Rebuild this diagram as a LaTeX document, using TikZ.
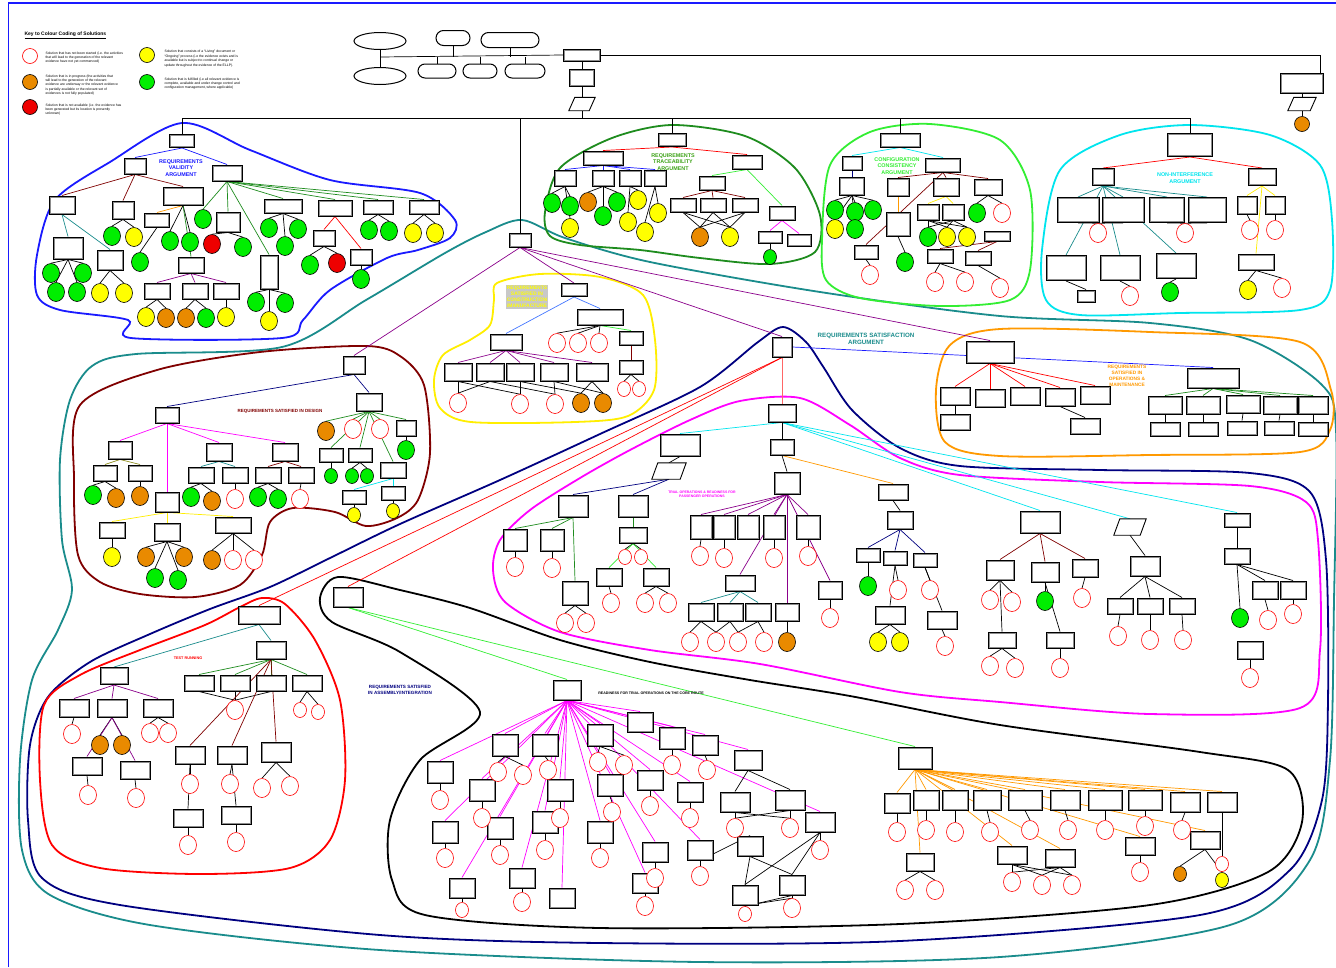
\documentclass[tikz,border=0pt]{standalone}
\usepackage{fontspec}
\setmainfont{Liberation Sans}
\usetikzlibrary{shapes.geometric,shapes.misc}
\pgfdeclarelayer{paper}
\pgfdeclarelayer{outl}
\pgfdeclarelayer{links}
\pgfsetlayers{paper,outl,links,main}

\definecolor{cBlue}{HTML}{1A1AFF}
\definecolor{cGreen}{HTML}{1E8C1E}
\definecolor{cLime}{HTML}{33EE33}
\definecolor{cCyan}{HTML}{00E5EE}
\definecolor{cTeal}{HTML}{1A8C8C}
\definecolor{cYell}{HTML}{FFEE00}
\definecolor{cOrng}{HTML}{FF9900}
\definecolor{cDRed}{HTML}{800000}
\definecolor{cMag}{HTML}{FF00FF}
\definecolor{cPurp}{HTML}{8B008B}
\definecolor{cNavy}{HTML}{000080}
\definecolor{cRed}{HTML}{FF0000}
\definecolor{cSalm}{HTML}{FF6666}
\definecolor{cLBlue}{HTML}{4477FF}
\definecolor{cOlive}{HTML}{8C8C1A}
\definecolor{fOrng}{HTML}{E98A00}
\definecolor{fGrn}{HTML}{00EE00}
\definecolor{fYel}{HTML}{FFFF00}
\definecolor{fRed}{HTML}{EE0000}
\definecolor{tGrey}{HTML}{C8C8C8}

\tikzset{
  gbox/.style={draw=black,line width=1pt,fill=white,inner sep=0pt,
    path picture={\draw[black!45,line width=0.6pt]
      ([shift={(1.1pt,-1.1pt)}]path picture bounding box.north west) rectangle
      ([shift={(-1.1pt,1.1pt)}]path picture bounding box.south east);}},
  solb/.style={ellipse,inner sep=0pt,minimum width=17pt,minimum height=19pt,line width=0.6pt,draw=black},
  sr/.style={solb,draw=cRed,fill=white},
  so/.style={solb,fill=fOrng},
  sf/.style={solb,fill=fRed},
  sy/.style={solb,fill=fYel},
  sg/.style={solb,fill=fGrn},
  sm/.style={minimum width=13pt,minimum height=15pt},
  oval/.style={ellipse,draw=black,line width=1pt,fill=white,inner sep=0pt},
  pill/.style={rounded rectangle,draw=black,line width=1pt,fill=white,inner sep=0pt},
  ln/.style={line width=0.7pt},
  outline/.style={line width=1.8pt},
  keytxt/.style={anchor=north west,align=left,font=\fontsize{3.4}{4.4}\selectfont},
  ttl/.style={align=center,font=\bfseries\fontsize{5.4}{6.6}\selectfont},
}

\newcommand\bx[5]{\node[gbox,minimum width=#4pt,minimum height=#5pt] (#1) at (#2,#3) {};}
\newcommand\solu[4]{\node[#4] (#1) at (#2,#3) {};}
\newcommand\pa[5]{\node[inner sep=0pt,minimum width=#4pt,minimum height=#5pt] (#1) at (#2,#3) {};
  \draw[line width=0.9pt,fill=white] ([xshift=3pt]#1.north west) -- ([xshift=3pt]#1.north east)
    -- ([xshift=-3pt]#1.south east) -- ([xshift=-3pt]#1.south west) -- cycle;}
\newcommand\edg[3]{\begin{pgfonlayer}{links}\foreach \kid in {#3}{\draw[ln,#2] (#1.south) -- (\kid.north);}\end{pgfonlayer}}

\begin{document}
\begin{tikzpicture}[x=1pt,y=-1pt]
\useasboundingbox (0,0) rectangle (1336,967);
\begin{pgfonlayer}{paper}
\fill[white] (0,0) rectangle (1336,967);
\end{pgfonlayer}
\draw[cBlue,line width=1.2pt] (8.5,967) -- (8.5,3) -- (1336,3);

% ---------------- key ----------------
\node[anchor=west,font=\bfseries\fontsize{5}{6}\selectfont] (keyt) at (21,35) {\underline{Key to Colour Coding of Solutions}};
\node[sr,minimum width=15pt,minimum height=15pt] (k1) at (30,56) {};
\node[so,minimum width=15pt,minimum height=15pt] (k2) at (30,82) {};
\node[sf,minimum width=15pt,minimum height=15pt] (k3) at (30,107) {};
\node[sy,minimum width=15pt,minimum height=15pt] (k4) at (147,55) {};
\node[sg,minimum width=15pt,minimum height=15pt] (k5) at (147,82) {};
\node[keytxt] (kt1) at (42,48) {Solution that has not been started (i.e. the activities\\that will lead to the generation of the relevant\\evidence have not yet commenced)};
\node[keytxt] (kt2) at (42,71) {Solution that is in progress (the activities that\\will lead to the generation of the relevant\\evidence are underway or the relevant evidence\\is partially available or the relevant set of\\evidences is not fully populated)};
\node[keytxt] (kt3) at (42,100) {Solution that is not available (i.e. the evidence has\\been generated but its location is presently\\unknown)};
\node[keytxt] (kt4) at (161,47) {Solution that consists of a “Living” document or\\“Ongoing” process (i.e the evidence exists and is\\available but is subject to continual change or\\update throughout the evidence of the ELLP).};
\node[keytxt] (kt5) at (161,74) {Solution that is fulfilled (i.e all relevant evidence is\\complete, available and under change control and\\configuration management, where applicable)};

% ---------------- region outlines ----------------
\begin{pgfonlayer}{outl}
% requirements satisfaction (outermost)
\draw[outline,cTeal] plot[smooth cycle] coordinates {(522,220) (486,232) (445,253) (366,300) (282,347) (136,354) (92,366) (70,400) (60,460) (62,540) (72,590) (58,630) (32,680) (20,760) (22,850) (50,895) (150,925) (380,950) (700,962) (1000,957) (1230,925) (1310,860) (1330,760) (1334,600) (1336,430) (1322,385) (1250,340) (1150,323) (1000,316) (820,292) (650,262) (565,238)};
% assembly / integration
\draw[outline,cNavy] plot[smooth cycle] coordinates {(783,327) (806,342) (824,368) (852,410) (900,448) (960,466) (1100,470) (1250,473) (1310,492) (1326,560) (1328,700) (1322,800) (1290,870) (1200,915) (900,941) (600,943) (380,935) (120,905) (42,878) (28,820) (30,745) (48,697) (90,662) (150,634) (210,609) (270,587) (330,558) (400,524) (500,480) (600,434) (700,387) (758,342)};
\draw[outline,cBlue] plot[smooth cycle] coordinates {(37,255) (55,200) (110,162) (182,123) (250,150) (330,180) (420,193) (455,220) (450,238) (418,250) (387,258) (330,290) (303,320) (282,338) (131,338) (128,320) (60,310) (37,295)};
\draw[outline,cGreen] plot[smooth cycle] coordinates {(545,212) (560,168) (612,138) (672,125) (745,136) (795,168) (820,215) (815,252) (770,264) (700,258) (640,250) (580,245) (550,236)};
\draw[outline,cLime] plot[smooth cycle] coordinates {(822,240) (830,165) (870,132) (930,124) (1000,140) (1030,190) (1030,270) (1010,300) (940,306) (860,298) (826,280)};
\draw[outline,cCyan] plot[smooth cycle] coordinates {(1042,250) (1060,170) (1120,135) (1190,125) (1270,135) (1320,165) (1332,220) (1330,290) (1300,310) (1180,313) (1080,315) (1046,300)};
\draw[outline,cYell] plot[smooth cycle] coordinates {(494,300) (497,283) (540,274) (600,277) (643,295) (655,340) (654,390) (628,416) (575,422) (471,422) (440,408) (434,380) (443,355) (470,340) (490,325)};
\draw[outline,cDRed] plot[smooth cycle] coordinates {(80,405) (157,370) (260,352) (366,346) (400,356) (424,385) (430,453) (418,500) (397,518) (366,526) (335,512) (293,508) (270,522) (262,555) (240,585) (195,597) (140,594) (100,582) (78,555) (74,480)};
\draw[outline,cOrng] plot[smooth cycle] coordinates {(936,390) (950,345) (1000,329) (1150,332) (1300,342) (1331,390) (1330,430) (1300,452) (1150,455) (1000,456) (945,442)};
\draw[outline,cMag] plot[smooth cycle] coordinates {(800,398) (850,425) (900,458) (960,475) (1100,482) (1250,486) (1306,502) (1318,540) (1320,650) (1300,708) (1150,714) (1000,702) (900,692) (760,664) (650,650) (560,632) (505,602) (493,570) (500,540) (530,510) (580,478) (630,450) (690,420) (740,401)};
\draw[outline,black] plot[smooth cycle] coordinates {(320,598) (338,577) (400,590) (470,608) (560,640) (650,662) (750,680) (850,696) (1000,725) (1200,752) (1288,770) (1302,822) (1268,872) (1150,905) (900,924) (600,928) (425,915) (392,880) (390,820) (420,760) (480,712) (400,652) (332,622)};
\draw[outline,cRed] plot[smooth cycle] coordinates {(44,705) (80,675) (140,650) (205,625) (240,607) (262,598) (285,604) (315,640) (340,700) (345,780) (330,840) (290,868) (200,874) (100,868) (52,845) (40,780)};
\end{pgfonlayer}

% ---------------- titles ----------------
\node[ttl,text=cBlue] (tRV) at (181,168) {REQUIREMENTS\\VALIDITY\\ARGUMENT};
\node[ttl,text=cGreen!80!lime] (tTR) at (673,162) {REQUIREMENTS\\TRACEABILITY\\ARGUMENT};
\node[ttl,text=cLime] (tCC) at (897,166) {CONFIGURATION\\CONSISTENCY\\ARGUMENT};
\node[ttl,text=cCyan] (tNI) at (1185,178) {NON-INTERFERENCE\\ARGUMENT};
\node[ttl,text=fYel,fill=tGrey,inner sep=1pt,font=\bfseries\fontsize{5}{6}\selectfont] (tCM) at (527,297) {REQUIREMENTS\\SATISFIED IN\\CONSTRUCTION\\/MANUFACTURE};
\node[ttl,text=cTeal,font=\bfseries\fontsize{6.2}{7.6}\selectfont] (tRS) at (866,339) {REQUIREMENTS SATISFACTION\\ARGUMENT};
\node[ttl,text=cOrng,font=\bfseries\fontsize{4.8}{6.2}\selectfont] (tOM) at (1127,376) {REQUIREMENTS\\SATISFIED IN\\OPERATIONS \&\\MAINTENANCE};
\node[ttl,text=cDRed,font=\bfseries\fontsize{4.5}{5.5}\selectfont] (tDE) at (280,411) {REQUIREMENTS SATISFIED IN DESIGN};
\node[ttl,text=cMag,font=\bfseries\fontsize{3.5}{4.4}\selectfont] (tTO) at (702,494) {TRIAL OPERATIONS \& READINESS FOR\\PASSENGER OPERATIONS};
\node[ttl,text=cRed,font=\bfseries\fontsize{3.8}{4.6}\selectfont] (tTN) at (188,658) {TEST RUNNING};
\node[ttl,text=cNavy,font=\bfseries\fontsize{4.6}{6}\selectfont] (tAI) at (400,690) {REQUIREMENTS SATISFIED\\IN ASSEMBLY/INTEGRATION};
\node[ttl,text=black,font=\bfseries\fontsize{3.6}{4.4}\selectfont] (tRC) at (651,693) {READINESS FOR TRIAL OPERATIONS ON THE CORE ROUTE};

% ---------------- top structure ----------------
\node[oval,minimum width=52pt,minimum height=17pt] (o1) at (380,41) {};
\node[oval,minimum width=52pt,minimum height=17pt] (o2) at (380,76) {};
\node[pill,minimum width=34pt,minimum height=15pt] (r1) at (453,38) {};
\node[pill,minimum width=58pt,minimum height=15pt] (r2) at (510,40) {};
\node[pill,minimum width=38pt,minimum height=14pt] (r3) at (437,71) {};
\node[pill,minimum width=34pt,minimum height=14pt] (r4) at (480,71) {};
\node[pill,minimum width=40pt,minimum height=14pt] (r5) at (525,71) {};
\bx{g0}{582}{55}{37}{12}
\bx{c0}{582}{78}{25}{17}
\pa{s0}{582}{104}{20}{13}
\coordinate (j0) at (380,57);
\coordinate (bm) at (582,118);
\coordinate (bl) at (182,118);
\coordinate (br) at (1190,118);
\bx{gx}{1302}{83}{43}{20}
\pa{sx}{1302}{104}{22}{13}
\solu{ox}{1302}{124}{so,minimum width=15pt,minimum height=15pt}
\begin{pgfonlayer}{links}
\draw[ln] (o1) -- (o2);
\draw[ln] (j0) -- (g0.west);
\foreach \p in {r1,r2} \draw[ln] (\p.south) -- (\p.south |- j0);
\foreach \p in {r3,r4,r5} \draw[ln] (\p.north) -- (\p.north |- j0);
\draw[ln] (g0) -- (c0);
\draw[ln] (c0) -- (s0);
\draw[ln] (s0.south) -- (bm);
\draw[ln] (bl) -- (br);
\draw[ln] (g0.east) -| ([xshift=-4pt]gx.north east);
\draw[ln] (gx) -- (sx);
\draw[ln] (sx) -- (ox);
\end{pgfonlayer}

% ---------------- requirements validity ----------------
\bx{rv0}{182}{141}{25}{13}
\bx{rv1}{135}{166}{22}{16}
\bx{rv2}{227}{173}{30}{16}
\bx{rva}{62}{205}{26}{18}
\bx{rvb}{123}{210}{22}{18}
\bx{rvc}{183}{196}{40}{18}
\bx{rvd}{157}{220}{25}{14}
\bx{rve}{228}{222}{24}{20}
\bx{rvf}{283}{206}{38}{14}
\bx{rvg}{335}{208}{34}{16}
\bx{rvh}{378}{207}{30}{14}
\bx{rvi}{424}{207}{30}{14}
\bx{rvj}{68}{248}{30}{22}
\bx{rvk}{110}{260}{26}{20}
\bx{rvp}{191}{265}{26}{16}
\bx{rvl}{157}{291}{26}{16}
\bx{rvm}{195}{291}{26}{16}
\bx{rvs}{226}{291}{26}{16}
\bx{rvn}{269}{272}{18}{34}
\bx{rvq}{324}{238}{22}{16}
\bx{rvr}{361}{257}{22}{16}
\solu{rs1}{203}{219}{sg}
\solu{rs2}{269}{228}{sg}
\solu{rs3}{298}{229}{sg}
\solu{rs4}{51}{273}{sg}
\solu{rs5}{83}{273}{sg}
\solu{rs6}{56}{292}{sg}
\solu{rs7}{77}{292}{sg}
\solu{rs8}{100}{293}{sy}
\solu{rs9}{124}{293}{sy}
\solu{rs10}{112}{236}{sg}
\solu{rs11}{134}{237}{sy}
\solu{rs12}{140}{262}{sg}
\solu{rs13}{212}{244}{sf}
\solu{rs14}{243}{247}{sg}
\solu{rs15}{170}{241}{sg}
\solu{rs16}{190}{242}{sg}
\solu{rs17}{337}{263}{sf}
\solu{rs18}{310}{265}{sg}
\solu{rs19}{361}{279}{sg}
\solu{rs20}{369}{230}{sg}
\solu{rs21}{389}{231}{sg}
\solu{rs22}{413}{233}{sy}
\solu{rs23}{435}{233}{sy}
\solu{rs24}{256}{302}{sg}
\solu{rs25}{285}{303}{sg}
\solu{rs26}{269}{321}{sy}
\solu{rs27}{146}{317}{sy}
\solu{rs28}{166}{318}{so}
\solu{rs29}{186}{318}{so}
\solu{rs30}{206}{318}{sg}
\solu{rs31}{226}{317}{sy}
\solu{rs32}{285}{246}{sg}
\edg{rv0}{cBlue}{rv1,rv2}
\edg{rv1}{cDRed}{rva,rvb,rvc}
\edg{rvc}{cOrng}{rvd}
\edg{rvc}{black}{rs15,rs16}
\edg{rvd}{black}{rs12}
\edg{rvc}{cGreen}{rvp}
\edg{rvp}{cPurp}{rvl,rvm,rvs}
\edg{rvl}{black}{rs27,rs28}
\edg{rvm}{black}{rs29,rs30}
\edg{rvs}{black}{rs31}
\edg{rv2}{cGreen}{rs1,rve,rvf,rvg,rvh,rvi,rvn}
\edg{rve}{black}{rs13,rs14}
\edg{rvf}{black}{rs2,rs3,rs32}
\edg{rva}{cTeal}{rvj,rvk}
\edg{rvj}{black}{rs4,rs5,rs6,rs7}
\edg{rvk}{black}{rs8,rs9}
\edg{rvb}{black}{rs10,rs11}
\edg{rvn}{black}{rs24,rs25,rs26}
\edg{rvg}{cRed}{rvq,rvr}
\edg{rvq}{black}{rs17,rs18}
\edg{rvr}{black}{rs19}
\edg{rvh}{black}{rs20,rs21}
\edg{rvi}{black}{rs22,rs23}

% ---------------- requirements traceability ----------------
\bx{tr0}{672}{140}{28}{13}
\bx{tr1}{603}{158}{40}{14}
\bx{tr2}{747}{162}{30}{14}
\bx{tra}{565}{178}{22}{16}
\bx{trb}{603}{178}{22}{16}
\bx{trc}{630}{178}{22}{16}
\bx{trd}{655}{178}{22}{16}
\bx{tre}{712}{183}{26}{14}
\bx{trf}{782}{213}{26}{14}
\bx{trg}{683}{205}{26}{14}
\bx{trh}{713}{205}{26}{14}
\bx{tri}{745}{205}{26}{14}
\bx{trj}{770}{237}{24}{12}
\bx{trk}{799}{240}{24}{12}
\solu{ts1}{552}{203}{sg}
\solu{ts2}{570}{206}{sg}
\solu{ts3}{588}{202}{so}
\solu{ts4}{603}{216}{sg}
\solu{ts5}{617}{202}{sg}
\solu{ts6}{638}{200}{sy}
\solu{ts7}{628}{222}{sy}
\solu{ts8}{658}{213}{sy}
\solu{ts9}{645}{232}{sy}
\solu{ts10}{700}{237}{so}
\solu{ts11}{730}{237}{sy}
\solu{ts12}{570}{228}{sy}
\solu{ts13}{770}{257}{sg,sm}
\edg{tr0}{cRed}{tr1,tr2}
\edg{tr1}{cBlue}{tra,trb,trc,trd}
\edg{tra}{black}{ts1,ts2,ts12}
\edg{trb}{black}{ts3,ts4,ts5}
\edg{trc}{black}{ts6,ts7}
\edg{trd}{black}{ts8,ts9}
\edg{tr2}{cLime}{tre,trf}
\edg{tre}{cDRed}{trg,trh,tri}
\edg{trg}{black}{ts10,ts11}
\edg{trh}{black}{ts10,ts11}
\edg{tri}{black}{ts10,ts11}
\edg{trf}{cMag}{trj,trk}
\edg{trj}{black}{ts13}

% ---------------- configuration consistency ----------------
\bx{cc0}{900}{140}{40}{14}
\bx{cc1}{852}{163}{20}{14}
\bx{cc2}{943}{165}{35}{14}
\bx{cca}{852}{186}{25}{18}
\bx{ccb}{898}{187}{22}{18}
\bx{ccc}{946}{187}{26}{18}
\bx{ccd}{988}{187}{28}{16}
\bx{ccg}{898}{224}{24}{24}
\bx{cch}{928}{212}{22}{16}
\bx{cci}{953}{212}{22}{16}
\bx{ccj}{997}{236}{26}{10}
\bx{cck}{940}{256}{26}{14}
\bx{ccl}{978}{258}{26}{14}
\bx{ccm}{866}{252}{24}{14}
\solu{cs1}{835}{210}{sg}
\solu{cs2}{855}{212}{sg}
\solu{cs3}{873}{210}{sg}
\solu{cs4}{835}{229}{sy}
\solu{cs5}{855}{229}{sg}
\solu{cs6}{928}{237}{sg}
\solu{cs7}{947}{237}{sy}
\solu{cs8}{967}{237}{sy}
\solu{cs9}{977}{213}{sg}
\solu{cs10}{1002}{213}{sr}
\solu{cs11}{870}{275}{sr}
\solu{cs12}{935}{282}{sr}
\solu{cs13}{965}{282}{sr}
\solu{cs14}{1000}{288}{sr}
\solu{cs15}{905}{262}{sg}
\edg{cc0}{cCyan}{cc1,cc2}
\edg{cc1}{cNavy}{cca}
\edg{cca}{black}{cs1,cs2,cs3,cs4,cs5}
\edg{cc2}{cDRed}{ccb,ccc,ccd,ccm}
\edg{ccb}{cOrng}{ccg}
\edg{ccc}{cYell}{cch,cci}
\edg{cch}{black}{cs6,cs7,cs8}
\edg{cci}{black}{cs6,cs7,cs8}
\edg{ccd}{black}{cs9,cs10}
\edg{ccm}{black}{cs11}
\edg{ccg}{black}{cs15}
\edg{ccj}{cDRed}{cck,ccl}
\edg{cck}{black}{cs12,cs13}
\edg{ccl}{black}{cs14}

% ---------------- non-interference ----------------
\bx{ni0}{1190}{145}{45}{23}
\bx{ni1}{1103}{177}{22}{17}
\bx{ni2}{1262}{177}{28}{17}
\bx{nia}{1078}{210}{42}{25}
\bx{nib}{1123}{210}{42}{25}
\bx{nic}{1167}{210}{35}{25}
\bx{nid}{1207}{210}{38}{25}
\bx{nie}{1247}{205}{20}{18}
\bx{nif}{1275}{205}{20}{18}
\bx{nig}{1066}{268}{40}{25}
\bx{nih}{1120}{268}{40}{25}
\bx{nii}{1176}{266}{40}{25}
\bx{nij}{1256}{262}{36}{16}
\bx{nik}{1086}{296}{18}{12}
\solu{ns1}{1098}{233}{sr}
\solu{ns2}{1185}{233}{sr}
\solu{ns3}{1250}{230}{sr}
\solu{ns4}{1275}{230}{sr}
\solu{ns5}{1170}{292}{sg}
\solu{ns6}{1248}{290}{sy}
\solu{ns7}{1282}{288}{sr}
\solu{ns8}{1130}{296}{sr}
\edg{ni0}{cRed}{ni1,ni2}
\edg{ni1}{cTeal}{nia,nib,nic,nid,nig,nih,nii}
\edg{ni2}{cYell}{nie,nif,nij}
\edg{nia}{black}{ns1}
\edg{nib}{black}{ns1}
\edg{nic}{black}{ns2}
\edg{nid}{black}{ns2}
\edg{nie}{black}{ns3}
\edg{nif}{black}{ns4}
\edg{nig}{black}{nik}
\edg{nih}{black}{ns8}
\edg{nii}{black}{ns5}
\edg{nij}{black}{ns6,ns7}

% ---------------- satisfaction argument heads ----------------
\bx{rs0}{520}{240}{22}{14}
\bx{rsR}{782}{347}{20}{20}
\begin{pgfonlayer}{links}
\foreach \p in {rv0,rs0,tr0,cc0,ni0} \draw[ln] (\p.north |- bl) -- (\p.north);
\end{pgfonlayer}

% ---------------- construction / manufacture ----------------
\bx{y0}{574}{290}{26}{13}
\bx{y1}{600}{317}{46}{16}
\bx{y2}{506}{342}{32}{16}
\bx{y3}{631}{338}{24}{14}
\bx{y4}{631}{367}{24}{14}
\bx{y5}{458}{372}{28}{18}
\bx{y6}{490}{372}{28}{18}
\bx{y7}{520}{372}{28}{18}
\bx{y8}{554}{372}{28}{18}
\bx{y9}{592}{372}{32}{18}
\solu{ys1}{557}{343}{sr}
\solu{ys2}{578}{343}{sr}
\solu{ys3}{599}{343}{sr}
\solu{ys4}{624}{389}{sr,sm}
\solu{ys5}{639}{389}{sr,sm}
\solu{ys6}{458}{403}{sr}
\solu{ys7}{520}{404}{sr}
\solu{ys8}{555}{404}{sr}
\solu{ys9}{581}{403}{so}
\solu{ys10}{603}{403}{so}
\edg{rs0}{cPurp}{y0,rsR}
\edg{y0}{cLBlue}{y1,y2}
\edg{y1}{black}{ys1,ys2,ys3}
\edg{y1}{cLime}{y3}
\edg{y3}{cDRed}{y4}
\edg{y4}{black}{ys4,ys5}
\edg{y2}{cPurp}{y5,y6,y7,y8,y9}
\edg{y5}{black}{ys6,ys7}
\edg{y6}{black}{ys6,ys8}
\edg{y7}{black}{ys7,ys9}
\edg{y8}{black}{ys8,ys10}
\edg{y9}{black}{ys9,ys10}

% ---------------- design ----------------
\bx{de0}{354}{365}{22}{18}
\bx{de1}{167}{415}{24}{16}
\bx{de2}{369}{402}{26}{18}
\bx{dA}{120}{450}{24}{18}
\bx{dB}{219}{452}{26}{18}
\bx{dC}{285}{452}{26}{18}
\bx{dD}{167}{502}{24}{20}
\bx{dA1}{105}{473}{24}{16}
\bx{dA2}{140}{473}{24}{16}
\bx{dB1}{201}{475}{26}{16}
\bx{dB2}{235}{475}{26}{16}
\bx{dC1}{268}{475}{26}{16}
\bx{dC2}{301}{475}{26}{16}
\bx{dD1}{112}{530}{26}{16}
\bx{dD2}{167}{532}{26}{18}
\bx{dD3}{233}{525}{36}{16}
\bx{dE}{406}{428}{20}{16}
\bx{dF}{331}{455}{24}{14}
\bx{dG}{360}{455}{24}{14}
\bx{dH}{393}{470}{26}{16}
\bx{dI}{354}{497}{24}{14}
\bx{dJ}{393}{493}{24}{14}
\solu{ds1}{93}{495}{sg}
\solu{ds2}{116}{498}{so}
\solu{ds3}{140}{496}{so}
\solu{ds4}{191}{497}{sg}
\solu{ds5}{212}{501}{so}
\solu{ds6}{235}{499}{sr}
\solu{ds7}{258}{497}{sg}
\solu{ds8}{278}{499}{sg}
\solu{ds9}{300}{499}{sr}
\solu{ds10}{112}{557}{sy}
\solu{ds11}{146}{557}{so}
\solu{ds12}{155}{578}{sg}
\solu{ds13}{178}{580}{sg}
\solu{ds14}{184}{557}{so}
\solu{ds15}{212}{560}{so}
\solu{ds16}{233}{560}{sr}
\solu{ds17}{254}{560}{sr}
\solu{ds18}{326}{431}{so}
\solu{ds19}{353}{429}{sr}
\solu{ds20}{380}{429}{sr}
\solu{ds21}{406}{450}{sg}
\solu{ds22}{331}{476}{sg,sm}
\solu{ds23}{352}{476}{sg,sm}
\solu{ds24}{367}{476}{sg,sm}
\solu{ds25}{354}{515}{sy,sm}
\solu{ds26}{393}{511}{sy,sm}
\edg{rs0}{cPurp}{de0}
\edg{de0}{cNavy}{de1,de2}
\edg{de1}{cMag}{dA,dB,dC,dD}
\edg{dA}{cOlive}{dA1,dA2}
\edg{dB}{cTeal}{dB1,dB2}
\edg{dC}{cDRed}{dC1,dC2}
\edg{dA1}{black}{ds1,ds2}
\edg{dA2}{black}{ds3}
\edg{dB1}{black}{ds4,ds5}
\edg{dB2}{black}{ds6}
\edg{dC1}{black}{ds7,ds8}
\edg{dC2}{black}{ds9}
\edg{dD}{cYell}{dD1,dD2,dD3}
\edg{dD1}{black}{ds10}
\edg{dD2}{black}{ds11,ds12,ds13,ds14}
\edg{dD3}{black}{ds15,ds16,ds17}
\edg{de2}{cGreen}{ds18,ds19,ds20,dE,dF,dG,dH}
\edg{dE}{black}{ds21}
\edg{dF}{black}{ds22}
\edg{dG}{black}{ds23,ds24}
\edg{dH}{cCyan}{dI,dJ}
\edg{dI}{black}{ds25}
\edg{dJ}{black}{ds26}

% ---------------- operations & maintenance ----------------
\bx{om0}{990}{352}{48}{22}
\bx{om1}{1213}{378}{52}{20}
\bx{oma}{955}{396}{30}{18}
\bx{omb}{990}{398}{30}{18}
\bx{omc}{1025}{396}{30}{18}
\bx{omd}{1060}{397}{30}{18}
\bx{ome}{1095}{395}{30}{18}
\bx{omf}{1165}{405}{34}{18}
\bx{omg}{1203}{405}{34}{18}
\bx{omh}{1243}{404}{34}{18}
\bx{omi}{1280}{405}{34}{18}
\bx{omj}{1313}{405}{30}{18}
\bx{omk}{955}{422}{30}{16}
\bx{oml}{1085}{426}{30}{16}
\bx{omm}{1165}{429}{30}{14}
\bx{omn}{1203}{429}{30}{14}
\bx{omo}{1242}{428}{30}{14}
\bx{omp}{1279}{428}{30}{14}
\bx{omq}{1313}{429}{30}{14}
\edg{rs0}{cPurp}{om0}
\begin{pgfonlayer}{links}
\draw[ln,cBlue] (rsR.east) -- (om1.north);
\end{pgfonlayer}
\edg{om0}{cRed}{oma,omb,omc,omd,ome}
\edg{om1}{cGreen}{omf,omg,omh,omi,omj}
\edg{oma}{black}{omk}
\edg{omd}{black}{oml}
\edg{omf}{black}{omm}
\edg{omg}{black}{omn}
\edg{omh}{black}{omo}
\edg{omi}{black}{omp}
\edg{omj}{black}{omq}

% ---------------- trial operations ----------------
\bx{to0}{782}{413}{28}{18}
\bx{to1}{680}{445}{40}{22}
\bx{to2}{782}{447}{24}{16}
\bx{to2b}{787}{483}{26}{22}
\bx{to3}{893}{492}{30}{16}
\bx{to4}{1040}{522}{40}{22}
\bx{to5}{1237}{520}{26}{14}
\pa{to6}{1130}{527}{26}{16}
\pa{tp1}{669}{471}{28}{16}
\bx{tA}{573}{506}{30}{22}
\bx{tB}{633}{506}{30}{22}
\bx{tA1}{515}{540}{24}{22}
\bx{tA2}{552}{540}{24}{22}
\bx{tA3}{575}{593}{26}{24}
\bx{tB1}{633}{535}{28}{16}
\bx{tB2}{609}{577}{26}{18}
\bx{tB3}{656}{577}{26}{18}
\bx{tc1}{701}{527}{22}{24}
\bx{tc2}{724}{527}{22}{24}
\bx{tc3}{748}{527}{22}{24}
\bx{tc4}{774}{527}{22}{24}
\bx{tc5}{808}{527}{24}{24}
\bx{tc6}{740}{583}{30}{16}
\bx{tc7}{701}{612}{26}{18}
\bx{tc8}{730}{612}{26}{18}
\bx{tc9}{758}{612}{26}{18}
\bx{tc10}{787}{612}{24}{18}
\bx{tc11}{830}{590}{24}{18}
\bx{tq}{900}{520}{26}{18}
\bx{tqa}{868}{555}{24}{14}
\bx{tqb}{895}{558}{24}{14}
\bx{tqc}{925}{560}{24}{14}
\bx{tu}{890}{615}{30}{18}
\bx{tv}{942}{620}{30}{18}
\bx{tw}{1000}{570}{28}{20}
\bx{tx}{1045}{572}{28}{20}
\bx{ty}{1085}{568}{26}{18}
\bx{tz}{1002}{640}{28}{16}
\bx{tzz}{1060}{640}{28}{16}
\bx{ua}{1145}{566}{30}{20}
\bx{ub}{1120}{606}{26}{16}
\bx{uc}{1150}{606}{26}{16}
\bx{ud}{1182}{606}{26}{16}
\bx{ue}{1237}{556}{26}{16}
\bx{uf}{1265}{590}{26}{18}
\bx{ug}{1293}{590}{26}{18}
\bx{uh}{1250}{650}{26}{18}
\solu{os1}{515}{567}{sr}
\solu{os2}{552}{568}{sr}
\solu{os3}{565}{623}{sr}
\solu{os4}{586}{623}{sr}
\solu{os5}{625}{557}{sr,sm}
\solu{os6}{641}{557}{sr,sm}
\solu{os7}{611}{603}{sr}
\solu{os8}{645}{603}{sr}
\solu{os9}{668}{603}{sr}
\solu{os10}{700}{556}{sr}
\solu{os11}{724}{558}{sr}
\solu{os12}{774}{558}{sr}
\solu{os13}{808}{556}{sr}
\solu{os14}{690}{642}{sr}
\solu{os15}{716}{642}{sr}
\solu{os16}{738}{642}{sr}
\solu{os17}{764}{642}{sr}
\solu{os18}{787}{642}{so}
\solu{os19}{830}{618}{sr}
\solu{os22}{868}{586}{sg}
\solu{os23}{898}{590}{sr}
\solu{os24}{930}{590}{sr}
\solu{os25}{878}{642}{sy}
\solu{os26}{900}{642}{sy}
\solu{os27}{945}{646}{sr}
\solu{os28}{990}{600}{sr}
\solu{os29}{1012}{602}{sr}
\solu{os30}{1045}{601}{sg}
\solu{os31}{1082}{598}{sr}
\solu{os32}{990}{666}{sr}
\solu{os33}{1015}{668}{sr}
\solu{os34}{1060}{668}{sr}
\solu{os35}{1118}{636}{sr}
\solu{os36}{1150}{640}{sr}
\solu{os37}{1183}{640}{sr}
\solu{os38}{1240}{618}{sg}
\solu{os39}{1268}{620}{sr}
\solu{os40}{1293}{614}{sr}
\solu{os41}{1250}{678}{sr}
\edg{rsR}{cSalm}{to0}
\edg{to0}{cCyan}{to1,to4,to6,to5}
\edg{to0}{black}{to2}
\edg{to2}{black}{to2b}
\edg{to2}{cOrng}{to3}
\edg{to1}{black}{tp1}
\edg{tp1}{cNavy}{tA,tB}
\edg{tA}{cGreen}{tA1,tA2,tA3}
\edg{tA1}{black}{os1}
\edg{tA2}{black}{os2}
\edg{tA3}{black}{os3,os4}
\edg{tB}{cGreen}{tB1}
\edg{tB1}{black}{os5,os6}
\edg{tB1}{cLime}{tB2,tB3}
\edg{tB2}{black}{os7}
\edg{tB3}{black}{os8,os9}
\edg{to2b}{cPurp}{tc1,tc2,tc3,tc4,tc5,tc6,tc11}
\edg{tc1}{black}{os10}
\edg{tc2}{black}{os11}
\edg{tc4}{black}{os12}
\edg{tc5}{black}{os13}
\edg{tc6}{cTeal}{tc7,tc8,tc9}
\edg{tc7}{black}{os14,os15}
\edg{tc8}{black}{os15,os16}
\edg{tc9}{black}{os16,os17}
\edg{tc10}{black}{os18}
\edg{to2b}{cPurp}{tc10}
\edg{tc11}{black}{os19}
\edg{to3}{black}{tq}
\edg{tq}{cNavy}{tqa,tqb,tqc}
\edg{tqa}{black}{os22}
\edg{tqb}{black}{os23,tu}
\edg{tqc}{black}{os24,tv}
\edg{tu}{black}{os25,os26}
\edg{tv}{black}{os27}
\edg{to4}{cDRed}{tw,tx,ty}
\edg{tw}{black}{os28,os29,tz}
\edg{tx}{black}{os30,tzz}
\edg{ty}{black}{os31}
\edg{tz}{black}{os32,os33}
\edg{tzz}{black}{os34}
\edg{to6}{black}{ua}
\edg{ua}{black}{ub,uc,ud}
\edg{ub}{black}{os35}
\edg{uc}{black}{os36}
\edg{ud}{black}{os37}
\edg{to5}{black}{ue}
\edg{ue}{black}{uf,ug,os38}
\edg{uf}{black}{os39}
\edg{ug}{black}{os40}
\edg{uh}{black}{os41}

% ---------------- assembly / readiness for trial operations ----------------
\bx{as1}{348}{597}{30}{20}
\bx{rc0}{567}{690}{28}{20}
\bx{rk0}{915}{758}{34}{22}
\edg{rsR}{cRed}{as1}
\edg{as1}{cLime}{rc0,rk0}
\bx{ra1}{505}{745}{26}{22}
\bx{ra2}{545}{745}{26}{22}
\bx{ra3}{600}{735}{26}{22}
\bx{ra4}{640}{722}{26}{20}
\bx{ra5}{672}{738}{26}{22}
\bx{ra6}{705}{745}{26}{20}
\bx{ra7}{748}{760}{28}{20}
\bx{rb1}{440}{772}{26}{22}
\bx{rb2}{482}{790}{26}{22}
\bx{rb3}{560}{790}{26}{22}
\bx{rb4}{610}{785}{26}{22}
\bx{rb5}{650}{780}{26}{20}
\bx{rb6}{690}{792}{26}{20}
\bx{rb7}{735}{802}{30}{20}
\bx{rb8}{790}{800}{30}{20}
\bx{rd1}{445}{832}{26}{22}
\bx{rd2}{500}{828}{26}{22}
\bx{rd3}{545}{822}{26}{22}
\bx{rd4}{600}{832}{26}{22}
\bx{rd5}{655}{852}{26}{20}
\bx{rd6}{700}{850}{26}{20}
\bx{rd7}{750}{846}{26}{20}
\bx{rd8}{820}{822}{30}{20}
\bx{re1}{462}{888}{26}{20}
\bx{re2}{522}{878}{26}{20}
\bx{re3}{562}{898}{26}{20}
\bx{re4}{645}{883}{26}{20}
\bx{re5}{745}{895}{26}{20}
\bx{re6}{792}{885}{26}{20}
\solu{qs1}{498}{772}{sr}
\solu{qs2}{523}{775}{sr}
\solu{qs3}{548}{770}{sr}
\solu{qs4}{598}{762}{sr}
\solu{qs5}{624}{765}{sr}
\solu{qs6}{672}{765}{sr}
\solu{qs7}{707}{770}{sr}
\solu{qs8}{440}{800}{sr}
\solu{qs9}{482}{818}{sr}
\solu{qs10}{560}{818}{sr}
\solu{qs11}{612}{812}{sr}
\solu{qs12}{650}{806}{sr}
\solu{qs13}{690}{818}{sr}
\solu{qs14}{735}{828}{sr}
\solu{qs15}{790}{828}{sr}
\solu{qs16}{445}{858}{sr}
\solu{qs17}{500}{855}{sr}
\solu{qs18}{545}{850}{sr}
\solu{qs19}{600}{858}{sr}
\solu{qs20}{655}{878}{sr}
\solu{qs21}{700}{876}{sr}
\solu{qs22}{820}{850}{sr}
\solu{qs23}{462}{910}{sr,sm}
\solu{qs24}{522}{902}{sr}
\solu{qs25}{645}{906}{sr}
\solu{qs26}{745}{914}{sr,sm}
\solu{qs27}{792}{908}{sr}
\edg{rc0}{cMag}{ra1,ra2,ra3,ra4,ra5,ra6,ra7,rb1,rb2,rb3,rb4,rb5,rb6,rd1,rd2,rd3,rd4,rd5,rd6,rd8,re1,re2,re3,re4}
\edg{ra1}{black}{qs1,qs2}
\edg{ra2}{black}{qs3}
\edg{ra3}{black}{qs4,qs5}
\edg{ra5}{black}{qs6}
\edg{ra6}{black}{qs7}
\edg{ra7}{black}{rb7,rb8}
\edg{rb1}{black}{qs8}
\edg{rb2}{black}{qs9}
\edg{rb3}{black}{qs10}
\edg{rb4}{black}{qs11}
\edg{rb5}{black}{qs12}
\edg{rb6}{black}{qs13}
\edg{rb7}{black}{qs14,qs15}
\edg{rb8}{black}{qs14,qs15}
\edg{rd1}{black}{qs16}
\edg{rd2}{black}{qs17}
\edg{rd3}{black}{qs18}
\edg{rd4}{black}{qs19}
\edg{rd5}{black}{qs20}
\edg{rd6}{black}{qs21,rd7}
\edg{rd7}{black}{re5,re6}
\edg{rd8}{black}{qs22,re5,re6}
\edg{re1}{black}{qs23}
\edg{re2}{black}{qs24}
\edg{re4}{black}{qs25}
\edg{re5}{black}{qs26,qs27}
\edg{re6}{black}{qs26,qs27}

% readiness, right-hand fan
\bx{q1}{897}{803}{26}{20}
\bx{q2}{926}{800}{26}{20}
\bx{q3}{955}{800}{26}{20}
\bx{q4}{987}{800}{28}{20}
\bx{q5}{1025}{800}{34}{20}
\bx{q6}{1065}{800}{30}{20}
\bx{q7}{1105}{800}{34}{20}
\bx{q8}{1145}{800}{34}{20}
\bx{q9}{1185}{802}{30}{20}
\bx{q10}{1222}{802}{30}{20}
\bx{q11}{920}{862}{28}{18}
\bx{q12}{1012}{855}{30}{18}
\bx{q13}{1060}{858}{30}{18}
\bx{q14}{1140}{846}{30}{18}
\bx{q15}{1205}{840}{30}{18}
\solu{ws1}{897}{832}{sr}
\solu{ws2}{926}{830}{sr}
\solu{ws3}{955}{832}{sr}
\solu{ws4}{990}{832}{sr}
\solu{ws5}{1030}{830}{sr}
\solu{ws6}{1068}{830}{sr}
\solu{ws7}{1105}{830}{sr}
\solu{ws8}{1145}{826}{sr}
\solu{ws9}{1182}{830}{sr}
\solu{ws10}{1222}{864}{sr,sm}
\solu{ws11}{905}{890}{sr}
\solu{ws12}{935}{890}{sr}
\solu{ws13}{1012}{882}{sr}
\solu{ws14}{1042}{885}{sr}
\solu{ws15}{1072}{885}{sr}
\solu{ws16}{1140}{872}{sr}
\solu{ws17}{1180}{874}{so,sm}
\solu{ws18}{1222}{880}{sy,sm}
\edg{rk0}{cOrng}{q1,q2,q3,q4,q5,q6,q7,q8,q9,q10,q11,q12,q13,q14,q15}
\edg{q1}{black}{ws1}
\edg{q2}{black}{ws2}
\edg{q3}{black}{ws3}
\edg{q4}{black}{ws4}
\edg{q5}{black}{ws5}
\edg{q6}{black}{ws6}
\edg{q7}{black}{ws7}
\edg{q8}{black}{ws8}
\edg{q9}{black}{ws9}
\edg{q10}{black}{ws10}
\edg{q11}{black}{ws11,ws12}
\edg{q12}{black}{ws13,ws14,ws15}
\edg{q13}{black}{ws13,ws14,ws15}
\edg{q14}{black}{ws16}
\edg{q15}{black}{ws17,ws18}

% ---------------- test running ----------------
\bx{tt0}{259}{615}{42}{18}
\bx{tn0}{114}{676}{28}{17}
\bx{tn1}{271}{650}{30}{18}
\edg{rsR}{cRed}{tt0}
\edg{tt0}{cTeal}{tn0,tn1}
\bx{tna}{74}{708}{30}{18}
\bx{tnb}{112}{708}{30}{18}
\bx{tnc}{158}{708}{30}{18}
\bx{tnd}{199}{683}{30}{16}
\bx{tne}{235}{683}{30}{16}
\bx{tnf}{271}{683}{30}{16}
\bx{tng2}{307}{683}{30}{16}
\bx{tng}{190}{755}{30}{18}
\bx{tnh}{232}{755}{30}{18}
\bx{tni}{276}{752}{30}{20}
\bx{tnj}{87}{766}{30}{18}
\bx{tnk}{135}{770}{30}{18}
\bx{tnl}{188}{818}{30}{18}
\bx{tnm}{236}{815}{30}{18}
\solu{ns21}{72}{734}{sr}
\solu{ns22}{100}{745}{so}
\solu{ns23}{122}{745}{so}
\solu{ns24}{150}{733}{sr}
\solu{ns25}{168}{733}{sr}
\solu{ns26}{235}{710}{sr}
\solu{ns35}{300}{710}{sr,sm}
\solu{ns36}{318}{712}{sr,sm}
\solu{ns27}{88}{795}{sr}
\solu{ns28}{136}{798}{sr}
\solu{ns29}{190}{784}{sr}
\solu{ns30}{230}{784}{sr}
\solu{ns31}{262}{788}{sr}
\solu{ns32}{290}{786}{sr}
\solu{ns33}{188}{845}{sr}
\solu{ns34}{236}{842}{sr}
\edg{tn0}{cPurp}{tna,tnb,tnc}
\edg{tna}{black}{ns21}
\edg{tnb}{black}{ns22,ns23}
\edg{tnb}{cPurp}{tnj,tnk}
\edg{tnc}{black}{ns24,ns25}
\edg{tn1}{cGreen}{tnd,tne,tnf,tng2}
\edg{tnd}{black}{ns26}
\edg{tne}{black}{ns26}
\edg{tnf}{black}{ns26}
\edg{tng2}{black}{ns35,ns36}
\edg{tn1}{cDRed}{tng,tnh,tni}
\edg{tnj}{black}{ns27}
\edg{tnk}{black}{ns28}
\edg{tng}{black}{ns29,tnl}
\edg{tnh}{black}{ns30,tnm}
\edg{tni}{black}{ns31,ns32}
\edg{tnl}{black}{ns33}
\edg{tnm}{black}{ns34}

\end{tikzpicture}
\end{document}
